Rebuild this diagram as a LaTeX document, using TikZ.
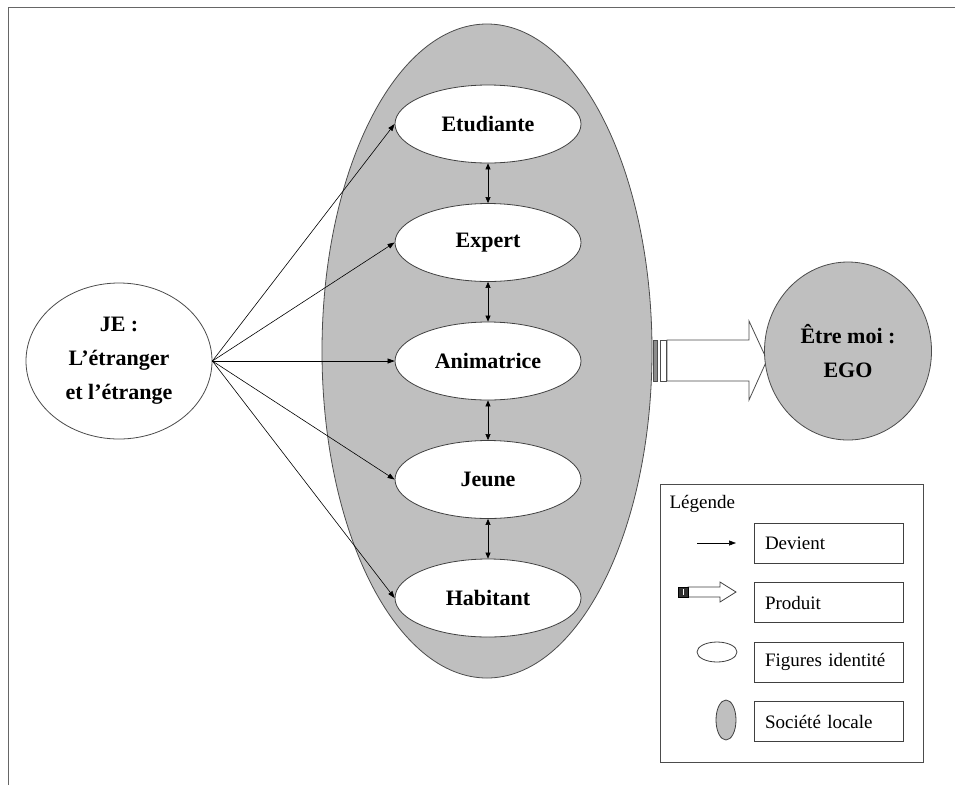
\documentclass[tikz,border=0pt]{standalone}
\usepackage{fontspec}
\setmainfont{Liberation Serif}
\usetikzlibrary{shapes.geometric,arrows.meta}

\tikzset{
  figure/.style={ellipse,draw=black!75,fill=white,thick,minimum width=186pt,minimum height=78pt,inner sep=0pt,font=\fontsize{22}{26}\selectfont\bfseries},
  big/.style={ellipse,draw=black!70,thick,inner sep=0pt,align=center,font=\fontsize{22}{34}\selectfont\bfseries},
  link/.style={-{Triangle[length=7pt,width=5pt]},black,line width=0.6pt},
  twoway/.style={{Triangle[length=6pt,width=5pt]}-{Triangle[length=6pt,width=5pt]},black,line width=0.6pt},
  legbox/.style={draw=black!75,thick,minimum height=40pt,text width=127pt,inner xsep=11pt,align=left,font=\fontsize{19}{22}\selectfont},
}

\begin{document}
\begin{tikzpicture}[x=1pt,y=-1pt,node distance=118.5pt]
\useasboundingbox (0,0) rectangle (955,785);
\draw [black!60,thick] (8,785) -- (8,7) -- (955,7);
% societe locale
\node [big,fill=black!25,minimum width=330pt,minimum height=654pt] (soc) at (487,351) {};
\node [figure] (etu) at (488,124) {Etudiante};
\node [figure,below of=etu] (exp) {Expert};
\node [figure,below of=exp] (ani) {Animatrice};
\node [figure,below of=ani] (jeu) {Jeune};
\node [figure,below of=jeu] (hab) {Habitant};
\node [big,fill=white,minimum width=186pt,minimum height=156pt] (je) at (119,361) {JE :\\L’étranger\\et l’étrange};
\foreach \f in {etu,exp,ani,jeu,hab} \draw [link] (je.east) -- (\f.west);
\draw [twoway] (etu) -- (exp);
\draw [twoway] (exp) -- (ani);
\draw [twoway] (ani) -- (jeu);
\draw [twoway] (jeu) -- (hab);
% produit
\draw [black!70,thick,fill=white] (667,340) -- (749,340) -- (749,321) -- (767,360) -- (749,400) -- (749,381) -- (667,381) -- cycle;
\draw [black!70,fill=black!45] (653,340) rectangle (657,381);
\draw [black!70,thick,fill=white] (660,340) rectangle (666,381);
\node [big,fill=black!25,minimum width=167pt,minimum height=178pt] (ego) at (848,351) {Être moi :\\EGO};
% legende
\draw [black!70,thick] (660,484) rectangle (923,762);
\node [anchor=west,font=\fontsize{19}{22}\selectfont] (legtitle) at (666,504) {Légende};
\node [legbox] (dev) at (828.5,543) {Devient};
\node [legbox,below of=dev,node distance=59.5pt] (pro) {Produit};
\node [legbox,below of=pro,node distance=59.5pt] (fig) {Figures identité};
\node [legbox,below of=fig,node distance=59.5pt] (loc) {Société locale};
\coordinate (devA) at (697,543);
\coordinate (devB) at (736,543);
\draw [link] (devA) -- (devB);
\draw [black!75,thick,fill=white] (688,587) -- (720,587) -- (720,582) -- (736,592) -- (720,602) -- (720,597) -- (688,597) -- cycle;
\draw [black,fill=black!80] (678,587) rectangle (688,597);
\draw [white,thick] (683,589) -- (683,595);
\draw [black!75,thick,fill=white] (717,652) ellipse [x radius=20, y radius=10];
\draw [black!75,thick,fill=black!25] (726,720) ellipse [x radius=10, y radius=20];
\end{tikzpicture}
\end{document}
